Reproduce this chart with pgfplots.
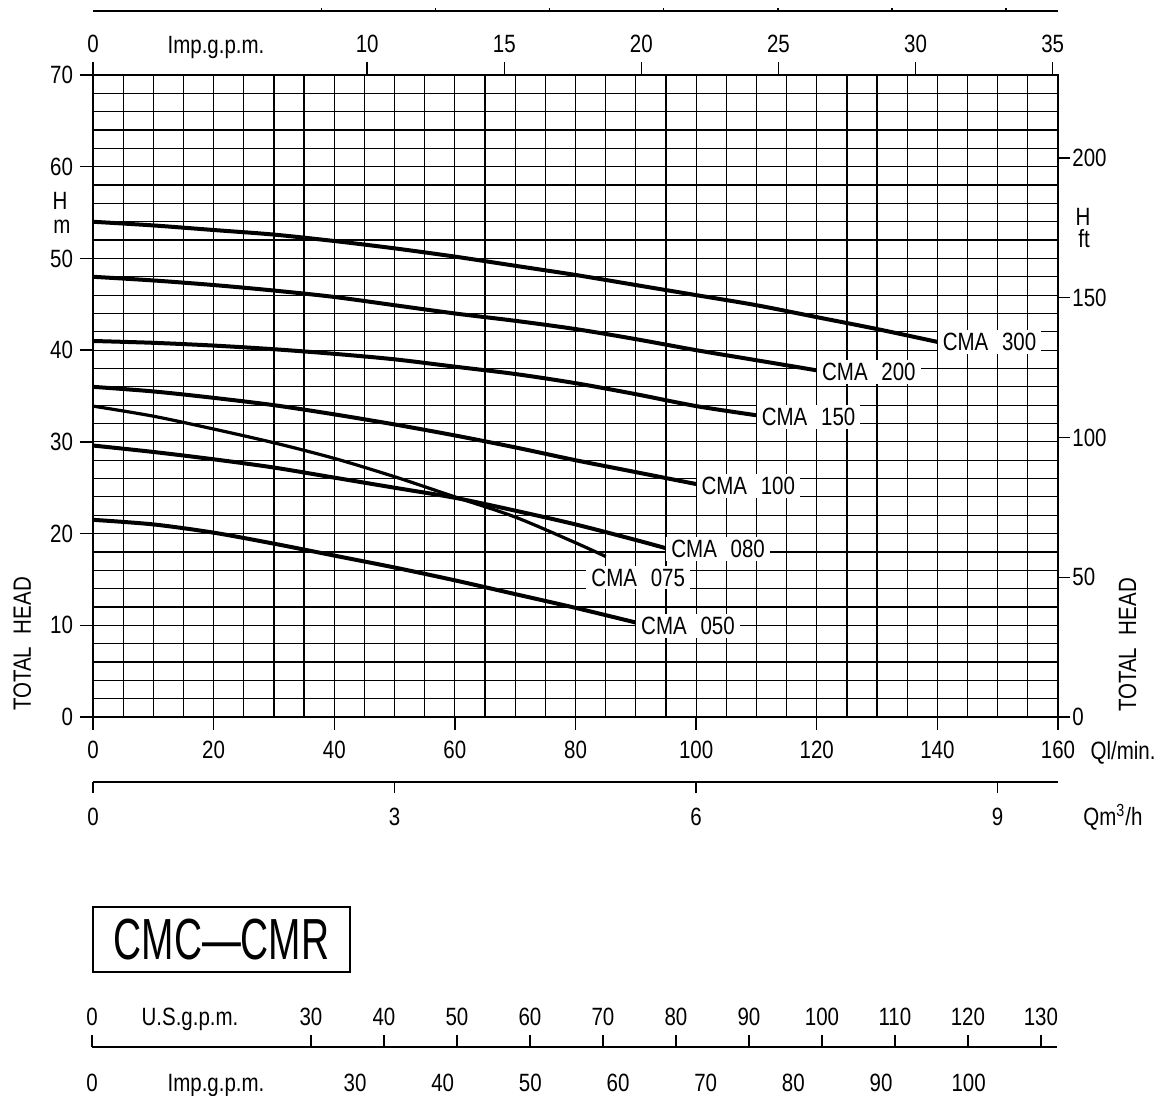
\documentclass[border=0pt]{standalone}
\usepackage{fontspec}
\setmainfont{Liberation Sans}[FakeStretch=0.82]
\newfontfamily\boxfont{Liberation Sans}[FakeStretch=0.67]
\usepackage{pgfplots}
\pgfplotsset{compat=1.18}
\newcommand\f{\fontsize{12.5pt}{15pt}\selectfont}
\pgfplotsset{
  base/.style={scale only axis, width=482.5pt,
    /pgf/number format/assume math mode=true,
    tick label style={font=\f},
    tick style={black, line width=0.7pt},
    axis line style={black, line width=0.7pt},
    tick align=outside},
}
\tikzset{
  cma/.style={black, line width=2pt, smooth, tension=0.5},
  lab/.style={anchor=west, fill=white, inner xsep=2.5pt, inner ysep=1.5pt, font=\f},
  il/.style={font=\f, anchor=base, yshift=-22pt},
}
\begin{document}
\begin{tikzpicture}
\useasboundingbox (0,0) rectangle (581pt,-548pt);
% main axis
\begin{axis}[base, at={(46.5pt,-358.5pt)}, anchor=south west, height=321pt,
  xmin=0, xmax=160, ymin=0, ymax=70,
  xtick={0,20,...,160}, ytick={0,10,...,70},
  minor x tick num=3, minor y tick num=4,
  grid=both, grid style={black, line width=0.6pt},
  major tick length=6.5pt, minor tick length=0pt,
  xtick pos=left, ytick pos=left,
  xticklabel style={yshift=-2pt},
  clip=false]
\addplot[cma] coordinates {(0,54.0)(10,53.6)(20,53.1)(30,52.6)(40,51.9)(50,51.1)(60,50.2)(70,49.2)(80,48.2)(90,47.1)(100,46.0)(110,44.9)(120,43.6)(130,42.3)(140,40.9)};
\addplot[cma] coordinates {(0,48.0)(10,47.6)(20,47.1)(30,46.5)(40,45.8)(50,44.9)(60,44.0)(70,43.2)(80,42.3)(90,41.2)(100,40.0)(110,38.9)(120,37.8)};
\addplot[cma] coordinates {(0,41.0)(10,40.8)(20,40.5)(30,40.1)(40,39.6)(50,39.0)(60,38.2)(70,37.4)(80,36.4)(90,35.2)(100,33.9)(110,32.9)};
\addplot[cma] coordinates {(0,36.0)(10,35.5)(20,34.8)(30,34.0)(40,33.0)(50,31.9)(60,30.7)(70,29.4)(80,28.0)(90,26.7)(100,25.4)};
\addplot[cma, line width=1.6pt] coordinates {(0,33.9)(10,32.8)(20,31.4)(30,29.9)(40,28.2)(50,26.2)(60,24.0)(70,21.8)(80,19.0)(85,17.5)};
\addplot[cma] coordinates {(0,29.6)(10,28.9)(20,28.1)(30,27.2)(40,26.1)(50,25.0)(60,23.9)(70,22.5)(80,21.0)(90,19.3)(95,18.4)};
\addplot[cma] coordinates {(0,21.5)(10,21.0)(20,20.1)(30,18.9)(40,17.6)(50,16.3)(60,14.9)(70,13.4)(80,11.9)(90,10.3)};
\node[lab] at (axis cs:140,40.9) {CMA\hspace{0.55em}300};
\node[lab] at (axis cs:120,37.6) {CMA\hspace{0.55em}200};
\node[lab] at (axis cs:110,32.7) {CMA\hspace{0.55em}150};
\node[lab] at (axis cs:100,25.2) {CMA\hspace{0.55em}100};
\node[lab] at (axis cs:95,18.3) {CMA\hspace{0.55em}080};
\node[lab, anchor=center] at (axis cs:90.4,15.2) {CMA\hspace{0.55em}075};
\node[lab] at (axis cs:90,9.9) {CMA\hspace{0.55em}050};
\end{axis}
% right ft axis
\begin{axis}[base, at={(46.5pt,-358.5pt)}, anchor=south west, height=321pt,
  xmin=0, xmax=160, ymin=0, ymax=229.66,
  hide x axis, axis y line*=right, ytick={0,50,...,200},
  major tick length=6pt, yticklabel style={inner xsep=1pt}]
\end{axis}
% top Imp.g.p.m. axis
\begin{axis}[base, at={(46.5pt,-358.5pt)}, anchor=south west, height=321pt,
  xmin=0, xmax=35.195, ymin=0, ymax=1,
  hide y axis, axis x line*=top, xtick={0,10,15,20,25,30,35},
  major tick length=6.5pt, xticklabel style={yshift=1pt}]
\end{axis}
% top US line
\begin{axis}[base, at={(46.5pt,-5.5pt)}, anchor=south west, height=2pt,
  xmin=0, xmax=42.27, ymin=0, ymax=1,
  hide y axis, axis x line*=bottom, xtick={10,15,...,40}, xticklabels={},
  tick align=inside, major tick length=1.5pt]
\end{axis}
% m3/h axis
\begin{axis}[base, at={(46.5pt,-391pt)}, anchor=south west, height=2pt,
  xmin=0, xmax=9.6, ymin=0, ymax=1,
  hide y axis, axis x line*=bottom, xtick={0,3,6,9},
  major tick length=5.5pt, xticklabel style={yshift=-4pt}]
\end{axis}
% bottom US / Imp scale
\begin{axis}[base, at={(46pt,-523.5pt)}, anchor=north west, height=2pt,
  xmin=0, xmax=132.2, ymin=0, ymax=1,
  hide y axis, axis x line*=top, xtick={0,30,40,...,130},
  major tick length=6pt, xticklabel style={yshift=1pt}, clip=false]
\node[il] at (axis cs:0,1) {0};
\node[il] at (axis cs:36.03,1) {30};
\node[il] at (axis cs:48.04,1) {40};
\node[il] at (axis cs:60.05,1) {50};
\node[il] at (axis cs:72.06,1) {60};
\node[il] at (axis cs:84.07,1) {70};
\node[il] at (axis cs:96.08,1) {80};
\node[il] at (axis cs:108.09,1) {90};
\node[il] at (axis cs:120.1,1) {100};
\end{axis}
% free texts
\begin{scope}[x=0.5pt, y=-0.5pt]
\node[font=\f, anchor=base] at (216,54) {Imp.g.p.m.};
\node[font=\f, anchor=base] at (60,210) {H};
\node[font=\f, anchor=base] at (62,234) {m};
\node[font=\f, anchor=base] at (1083,226) {H};
\node[font=\f, anchor=base] at (1084,248) {ft};
\node[font=\f, rotate=90, anchor=base] at (31,644) {TOTAL\hspace{0.5em}HEAD};
\node[font=\f, rotate=90, anchor=base] at (1136,645) {TOTAL\hspace{0.5em}HEAD};
\node[font=\f, anchor=base] at (1123,759) {Ql/min.};
\node[font=\f, anchor=base] at (1113,825) {Qm\textsuperscript{3}/h};
\node[font=\f, anchor=base] at (190,1025) {U.S.g.p.m.};
\node[font=\f, anchor=base] at (216,1091) {Imp.g.p.m.};
\node[draw, line width=0.8pt, minimum width=128.5pt, minimum height=32.5pt, inner sep=0pt,
  font=\boxfont\fontsize{29pt}{30pt}\selectfont] at (221.5,939.5) {CMC—CMR};
\end{scope}
\end{tikzpicture}
\end{document}
